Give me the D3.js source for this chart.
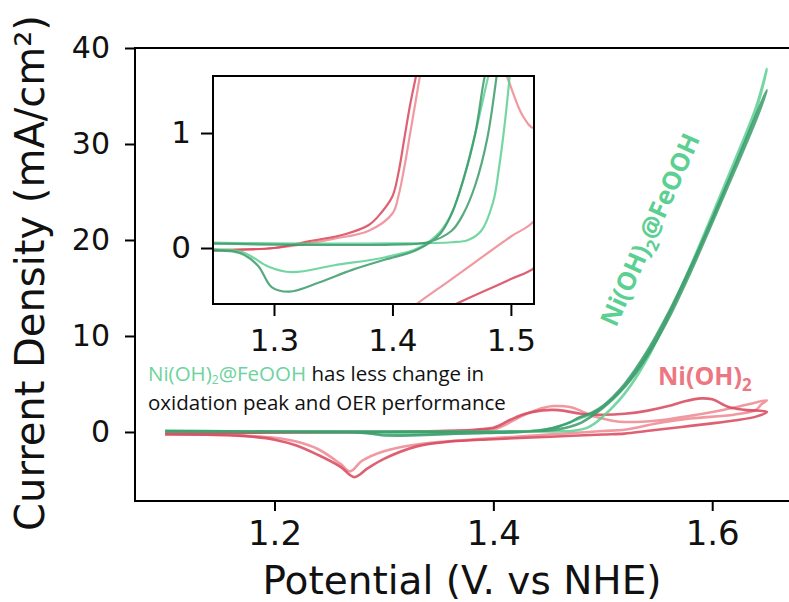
<!DOCTYPE html>
<html lang="en">
<head>
<meta charset="UTF-8">
<title>CV comparison</title>
<script src="https://d3js.org/d3.v7.min.js"></script>
<style>
  body { margin: 0; background: #fff; }
  svg { display: block; }
</style>
</head>
<body>
<svg id="chart" width="789" height="602"></svg>
<script>
// ---- data (potential V vs NHE, current mA/cm2), forward scan then reverse scan ----
var redLightV = [1.10,1.15,1.20,1.25,1.30,1.35,1.38,1.40,1.405,1.41,1.415,1.42,1.425,1.435,1.445,1.455,1.47,1.48,1.49,1.50,1.51,1.52,1.55,1.58,1.61,1.63,1.65,
                 1.645,1.64,1.62,1.58,1.55,1.52,1.50,1.45,1.42,1.38,1.33,1.30,1.28,1.269,1.26,1.24,1.22,1.20,1.15,1.10];
var redLightI = [-0.15,-0.1,-0.06,-0.02,0.0,0.08,0.15,0.3,0.45,0.7,1.0,1.3,1.6,2.1,2.5,2.7,2.6,2.2,1.7,1.4,1.15,1.04,1.2,1.7,2.3,2.8,3.3,
                 2.9,2.3,1.8,1.4,0.9,0.24,0.1,-0.27,-0.49,-0.8,-1.3,-2.0,-3.0,-4.1,-3.3,-1.8,-1.0,-0.6,-0.3,-0.2];

var redDarkV = [1.10,1.15,1.20,1.25,1.30,1.33,1.36,1.38,1.39,1.40,1.405,1.41,1.415,1.42,1.425,1.435,1.445,1.455,1.465,1.48,1.50,1.52,1.54,1.56,1.575,1.59,1.60,1.615,1.63,1.65,
                1.64,1.62,1.60,1.57,1.54,1.52,1.50,1.453,1.40,1.36,1.33,1.30,1.285,1.273,1.26,1.24,1.22,1.20,1.18,1.15,1.10];
var redDarkI = [-0.2,-0.12,-0.06,-0.02,0.0,0.06,0.12,0.2,0.3,0.45,0.65,0.95,1.25,1.5,1.75,2.05,2.25,2.3,2.2,1.9,1.8,1.9,2.2,2.7,3.2,3.5,3.4,2.6,2.3,2.1,
                1.6,1.2,0.9,0.5,0.1,-0.17,-0.27,-0.49,-0.75,-1.0,-1.5,-2.8,-3.8,-4.7,-3.6,-2.4,-1.4,-0.8,-0.5,-0.3,-0.25];

var greenLightV = [1.10,1.20,1.30,1.40,1.45,1.464,1.475,1.485,1.49,1.495,1.50,1.51,1.52,1.53,1.54,1.55,1.56,1.58,1.60,1.62,1.64,1.65,
                   1.64,1.62,1.60,1.58,1.56,1.54,1.52,1.50,1.49,1.481,1.47,1.46,1.45,1.44,1.422,1.394,1.351,1.315,1.295,1.282,1.272,1.25,1.20,1.10];
var greenLightI = [0.12,0.06,0.04,0.04,0.05,0.07,0.15,0.4,0.7,1.1,1.6,2.7,4.0,5.6,7.5,9.7,12.1,17.2,22.6,28.1,33.8,37.8,
                   33.5,27.7,22.2,17.0,12.2,8.0,4.8,2.6,1.9,1.5,1.0,0.6,0.3,0.14,0.0,-0.08,-0.15,-0.21,-0.16,-0.08,-0.03,-0.01,0.02,0.05];

var greenDarkV = [1.10,1.20,1.30,1.40,1.43,1.45,1.46,1.47,1.48,1.488,1.50,1.51,1.52,1.53,1.54,1.55,1.56,1.58,1.60,1.62,1.64,1.65,
                  1.64,1.62,1.60,1.58,1.56,1.54,1.52,1.50,1.49,1.478,1.47,1.46,1.45,1.44,1.42,1.394,1.366,1.338,1.313,1.298,1.287,1.275,1.265,1.25,1.20,1.10];
var greenDarkI = [0.1,0.05,0.03,0.03,0.05,0.15,0.3,0.55,0.95,1.5,2.5,3.5,4.7,6.1,7.8,9.7,11.8,16.6,21.8,27.1,32.5,35.6,
                  33.0,27.5,22.2,17.1,12.4,8.3,5.0,2.7,2.0,1.5,1.0,0.6,0.3,0.12,-0.02,-0.1,-0.19,-0.30,-0.38,-0.34,-0.16,-0.06,-0.03,-0.02,0.0,0.05];

var potentialTicks = [1.2, 1.4, 1.6];
var currentTicks = [0, 10, 20, 30, 40];
var insetPotentialTicks = [1.3, 1.4, 1.5];
var insetCurrentTicks = [0, 1];

var series = [
  { name: "Ni(OH)2 cycle 1", V: redLightV, I: redLightI, color: "#ef8791" },
  { name: "Ni(OH)2 cycle 2", V: redDarkV, I: redDarkI, color: "#d8455a" },
  { name: "Ni(OH)2@FeOOH cycle 1", V: greenLightV, I: greenLightI, color: "#5ccf92" },
  { name: "Ni(OH)2@FeOOH cycle 2", V: greenDarkV, I: greenDarkI, color: "#3a9a6a" }
];
series.forEach(function (s) {
  s.points = s.V.map(function (v, i) { return [v, s.I[i]]; });
});

var svg = d3.select("#chart");
var tickFont = "DejaVu Sans, sans-serif";

// ---- main axes ----
var x = d3.scaleLinear().domain([1.0725, 1.6775]).range([135, 797]);
var y = d3.scaleLinear().domain([-7.19, 40]).range([501, 48]);

svg.append("clipPath").attr("id", "mainClip")
  .append("rect").attr("x", 135).attr("y", 48).attr("width", 662).attr("height", 453);

var line = d3.line()
  .x(function (d) { return x(d[0]); })
  .y(function (d) { return y(d[1]); })
  .curve(d3.curveCatmullRom.alpha(0.5));

svg.append("g").attr("clip-path", "url(#mainClip)")
  .selectAll("path")
  .data(series)
  .enter().append("path")
    .attr("d", function (d) { return line(d.points); })
    .attr("fill", "none")
    .attr("stroke", function (d) { return d.color; })
    .attr("stroke-width", 2.6)
    .attr("stroke-opacity", 0.85);

// frame
svg.append("rect")
  .attr("x", 135).attr("y", 48).attr("width", 662).attr("height", 453)
  .attr("fill", "none").attr("stroke", "#000").attr("stroke-width", 2);

var xAxis = svg.append("g")
  .attr("transform", "translate(0,501)")
  .call(d3.axisBottom(x).tickValues(potentialTicks).tickFormat(d3.format(".1f")).tickSize(10).tickPadding(10));
var yAxis = svg.append("g")
  .attr("transform", "translate(135,0)")
  .call(d3.axisLeft(y).tickValues(currentTicks).tickSize(10).tickPadding(15));

[xAxis, yAxis].forEach(function (g) {
  g.select(".domain").remove();
  g.selectAll(".tick line").attr("stroke", "#000").attr("stroke-width", 2);
  g.selectAll(".tick text").attr("fill", "#111").style("font-family", tickFont);
});
xAxis.selectAll(".tick text").style("font-size", "34px");
yAxis.selectAll(".tick text").style("font-size", "30px");

svg.append("text")
  .attr("x", 462).attr("y", 594)
  .attr("text-anchor", "middle")
  .style("font-family", tickFont).style("font-size", "39px").attr("fill", "#111")
  .text("Potential (V. vs NHE)");

svg.append("text")
  .attr("transform", "translate(44,273) rotate(-90)")
  .attr("text-anchor", "middle")
  .style("font-family", tickFont).style("font-size", "40px").attr("fill", "#111")
  .text("Current Density (mA/cm²)");

// ---- annotations ----
var note = svg.append("text")
  .attr("x", 148).attr("y", 381)
  .style("font-family", "Open Sans, sans-serif").style("font-size", "20.5px").attr("fill", "#111");
note.append("tspan").attr("fill", "#6dd39d").text("Ni(OH)");
note.append("tspan").attr("fill", "#6dd39d").attr("dy", 3).style("font-size", "12px").text("2");
note.append("tspan").attr("fill", "#6dd39d").attr("dy", -3).text("@FeOOH");
note.append("tspan").text(" has less change in");
svg.append("text")
  .attr("x", 148).attr("y", 410)
  .style("font-family", "Open Sans, sans-serif").style("font-size", "20.5px").attr("fill", "#111")
  .text("oxidation peak and OER performance");

var redLabel = svg.append("text")
  .attr("x", 658).attr("y", 385)
  .style("font-family", "Open Sans, sans-serif").style("font-size", "25px").style("font-weight", "bold")
  .attr("fill", "#ec7782");
redLabel.append("tspan").text("Ni(OH)");
redLabel.append("tspan").attr("dy", 6).style("font-size", "17px").text("2");

var greenLabel = svg.append("text")
  .attr("transform", "translate(616,328) rotate(-66)")
  .style("font-family", "Open Sans, sans-serif").style("font-size", "25.5px").style("font-weight", "bold")
  .attr("fill", "#5ccf92");
greenLabel.append("tspan").text("Ni(OH)");
greenLabel.append("tspan").attr("dy", 6).style("font-size", "17px").text("2");
greenLabel.append("tspan").attr("dy", -6).text("@FeOOH");

// ---- inset ----
var xi = d3.scaleLinear().domain([1.2485, 1.5195]).range([213, 534]);
var yi = d3.scaleLinear().domain([-0.487, 1.496]).range([304, 76]);

svg.append("rect").attr("x", 213).attr("y", 76).attr("width", 321).attr("height", 228).attr("fill", "#fff");
svg.append("clipPath").attr("id", "insetClip")
  .append("rect").attr("x", 213).attr("y", 76).attr("width", 321).attr("height", 228);

var insetLine = d3.line()
  .x(function (d) { return xi(d[0]); })
  .y(function (d) { return yi(d[1]); })
  .curve(d3.curveCatmullRom.alpha(0.5));

svg.append("g").attr("clip-path", "url(#insetClip)")
  .selectAll("path")
  .data(series)
  .enter().append("path")
    .attr("d", function (d) { return insetLine(d.points); })
    .attr("fill", "none")
    .attr("stroke", function (d) { return d.color; })
    .attr("stroke-width", 2.2)
    .attr("stroke-opacity", 0.85);

svg.append("rect")
  .attr("x", 213).attr("y", 76).attr("width", 321).attr("height", 228)
  .attr("fill", "none").attr("stroke", "#000").attr("stroke-width", 2);

var xiAxis = svg.append("g")
  .attr("transform", "translate(0,304)")
  .call(d3.axisBottom(xi).tickValues(insetPotentialTicks).tickFormat(d3.format(".1f")).tickSize(12).tickPadding(13));
var yiAxis = svg.append("g")
  .attr("transform", "translate(213,0)")
  .call(d3.axisLeft(yi).tickValues(insetCurrentTicks).tickFormat(d3.format("d")).tickSize(12).tickPadding(10));

[xiAxis, yiAxis].forEach(function (g) {
  g.select(".domain").remove();
  g.selectAll(".tick line").attr("stroke", "#000").attr("stroke-width", 2);
  g.selectAll(".tick text").attr("fill", "#111").style("font-family", tickFont).style("font-size", "31px");
});
</script>
</body>
</html>
